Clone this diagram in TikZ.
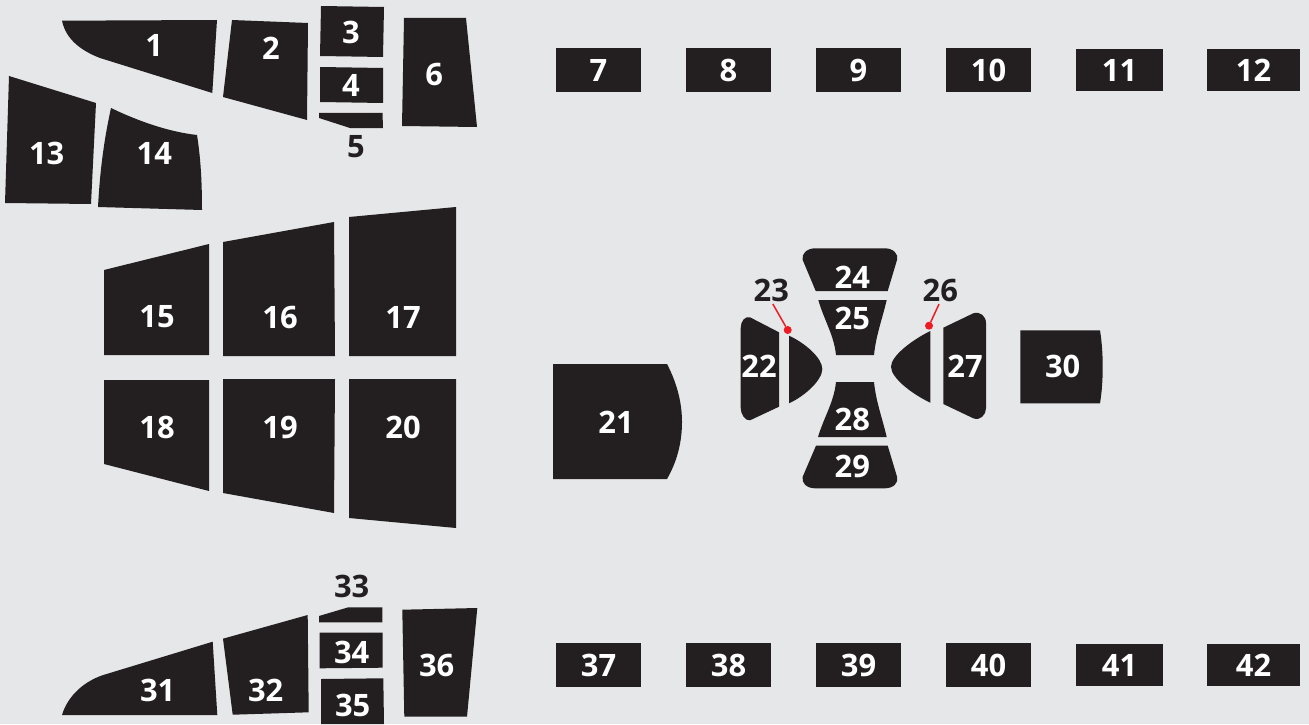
\documentclass[tikz,border=0pt]{standalone}
\usepackage{fontspec}
\setmainfont{Open Sans}
\usetikzlibrary{positioning}
\definecolor{paper}{HTML}{E6E7E8}
\definecolor{panel}{HTML}{231F20}
\definecolor{pin}{HTML}{ED1C24}
\tikzset{
  numlabel/.style={font=\fontsize{31}{32}\selectfont\bfseries, inner sep=0pt, outer sep=0pt, text=white},
  outlabel/.style={numlabel, text=panel},
  slot/.style={numlabel, fill=panel, minimum width=85bp, minimum height=44bp},
  slotwide/.style={slot, minimum width=87bp, minimum height=42bp},
  slotend/.style={slot, minimum width=93bp, minimum height=42bp},
  pindot/.style={circle, fill=pin, inner sep=0pt, outer sep=0pt, minimum size=8bp},
  pinline/.style={draw=pin, line width=1.5bp, shorten <=3bp}
}
\begin{document}
\begin{tikzpicture}[x=1bp, y=-1bp, node distance=45bp]
\fill[paper] (0,0) rectangle (1309,724);
\useasboundingbox (0,0) rectangle (1309,724);
\fill[panel] (62,20.7) -- (217,20) -- (212.3,93) -- (100,58) .. controls (82,51) and (66,40) .. (62,20.7) -- cycle;
\fill[panel] (232,20) -- (308,23) -- (307,120) -- (223,97) -- cycle;
\fill[panel] (321,6) -- (384,7) -- (383,57) -- (320,56) -- cycle;
\fill[panel] (320,67) -- (383,68) -- (383,103) -- (320,102) -- cycle;
\fill[panel] (319,113) -- (382.5,113) -- (383,128) -- (350,128) -- (319,118) -- cycle;
\fill[panel] (404,18) -- (466,18) -- (477,127) -- (402,126) -- cycle;
\fill[panel] (9,76) -- (96,103) -- (91,204) -- (5,203) -- cycle;
\fill[panel] (111,108) .. controls (140,122) and (170,132) .. (197,135) .. controls (201,160) and (202,185) .. (202,210) -- (98,207) .. controls (100,170) and (104,140) .. (111,108) -- cycle;
\fill[panel] (104,270) -- (209,244) -- (209,355) -- (104,355) -- cycle;
\fill[panel] (223,242) -- (334,222) -- (335,356) -- (223,356) -- cycle;
\fill[panel] (349,217) -- (456,207) -- (456,356) -- (349,356) -- cycle;
\fill[panel] (104,380) -- (209,380) -- (209,491) -- (104,464) -- cycle;
\fill[panel] (223,379) -- (335,379) -- (334,513) -- (223,493) -- cycle;
\fill[panel] (349,379) -- (456,379) -- (456,528) -- (349,518) -- cycle;
\fill[panel] (553,364) -- (667,364) .. controls (678,385) and (682,405) .. (682,422) .. controls (682,440) and (678,460) .. (667,479) -- (553,479) -- cycle;
\fill[panel] (750,317.3) -- (779,332.3) -- (779,406.7) -- (750,420.3) .. controls (745,421) and (740.7,414) .. (740.7,408) -- (740.7,328) .. controls (740.7,321) and (745,316) .. (750,317.3) -- cycle;
\fill[panel] (789,335.7) .. controls (805,343) and (822.3,358) .. (822.3,369) .. controls (822.3,380) and (805,396) .. (789,403.3) -- cycle;
\fill[panel] (815,248.3) -- (885,248.3) .. controls (893,248.3) and (899,254) .. (897,260) -- (887.7,291) -- (815.7,291) -- (802.7,260) .. controls (801,254) and (807,248.3) .. (815,248.3) -- cycle;
\fill[panel] (818.3,300) -- (886.7,300) .. controls (882,320) and (876,335) .. (874,355) -- (836,355) .. controls (834,335) and (824,320) .. (818.3,300) -- cycle;
\fill[panel] (930.3,331) .. controls (912,340) and (891,356) .. (891,366.7) .. controls (891,378) and (912,394) .. (930.3,402.7) -- cycle;
\fill[panel] (943.3,327.7) -- (973.3,313.3) .. controls (980,311) and (986,316) .. (986,323.3) -- (986,408.3) .. controls (986,415) and (980,421) .. (973.3,418.3) -- (943.3,404) -- cycle;
\fill[panel] (836,382) -- (874,382) .. controls (876,402) and (882,417) .. (886.7,437) -- (818,437) .. controls (824,417) and (834,402) .. (836,382) -- cycle;
\fill[panel] (816,445.7) -- (887.7,445.7) -- (897,476.7) .. controls (899,483) and (893,488.3) .. (885,488.3) -- (815,488.3) .. controls (807,488.3) and (801,483) .. (802.7,476.7) -- cycle;
\fill[panel] (1020.3,330.3) -- (1100,330.3) .. controls (1102,343) and (1102.7,355) .. (1102.7,366.7) .. controls (1102.7,379) and (1102,391) .. (1100,403.3) -- (1020.3,403.3) -- cycle;
\fill[panel] (62,715) .. controls (68,695) and (85,681) .. (103.3,675) -- (212.7,641.7) -- (217.3,715) -- cycle;
\fill[panel] (223,638.7) -- (307.7,615) -- (308.7,712.3) -- (232.7,714.7) -- cycle;
\fill[panel] (319,616) -- (348.3,607.3) -- (382.3,607.3) -- (382.3,622.3) -- (319,622.3) -- cycle;
\fill[panel] (319.7,632.7) -- (382.7,632.7) -- (382.7,667.7) -- (319.7,668.3) -- cycle;
\fill[panel] (321,679) -- (383.3,678.3) -- (384,724) -- (321,724) -- cycle;
\fill[panel] (402.3,609.7) -- (477.3,608) -- (467,716.7) -- (404.3,716.7) -- cycle;
\node[numlabel] (n1) at (154.3,45.7) {1};
\node[numlabel] (n2) at (271,48.3) {2};
\node[numlabel] (n3) at (351,32.3) {3};
\node[numlabel] (n4) at (351,85.7) {4};
\node[outlabel] (n5) at (356,147) {5};
\node[numlabel] (n6) at (434.3,74) {6};
\node[slot] (n7) at (598.5,70) {7};
\node[slot, right=of n7] (n8) {8};
\node[slot, right=of n8] (n9) {9};
\node[slot, right=of n9] (n10) {10};
\node[slotwide, right=of n10] (n11) {11};
\node[slotend, right=44bp of n11] (n12) {12};
\node[numlabel] (n13) at (46.7,153.3) {13};
\node[numlabel] (n14) at (154.3,153.3) {14};
\node[numlabel] (n15) at (157,317) {15};
\node[numlabel] (n16) at (280,317) {16};
\node[numlabel] (n17) at (403,317) {17};
\node[numlabel] (n18) at (157,427) {18};
\node[numlabel] (n19) at (280,427) {19};
\node[numlabel] (n20) at (403,427) {20};
\node[numlabel] (n21) at (616,422) {21};
\node[numlabel] (n22) at (759,366.7) {22};
\node[outlabel] (n23) at (771.3,290) {23};
\node[numlabel] (n24) at (852.3,277.3) {24};
\node[numlabel] (n25) at (852.3,318.3) {25};
\node[outlabel] (n26) at (940.3,290) {26};
\node[numlabel] (n27) at (965,366.7) {27};
\node[numlabel] (n28) at (852.3,419) {28};
\node[numlabel] (n29) at (852.3,466) {29};
\node[numlabel] (n30) at (1062.7,366.7) {30};
\node[numlabel] (n31) at (157.7,690) {31};
\node[numlabel] (n32) at (265.7,690) {32};
\node[outlabel] (n33) at (351.7,586) {33};
\node[numlabel] (n34) at (351.7,652.7) {34};
\node[numlabel] (n35) at (352.7,705.7) {35};
\node[numlabel] (n36) at (436.7,665.3) {36};
\node[slot] (n37) at (598.5,665) {37};
\node[slot, right=of n37] (n38) {38};
\node[slot, right=of n38] (n39) {39};
\node[slot, right=of n39] (n40) {40};
\node[slotwide, right=of n40] (n41) {41};
\node[slotend, right=44bp of n41] (n42) {42};
\node[pindot] (d23) at (787.7,330) {};
\node[pindot] (d26) at (929,325.7) {};
\draw[pinline] (n23.south) -- (d23);
\draw[pinline] (n26.south) -- (d26);
\end{tikzpicture}
\end{document}
